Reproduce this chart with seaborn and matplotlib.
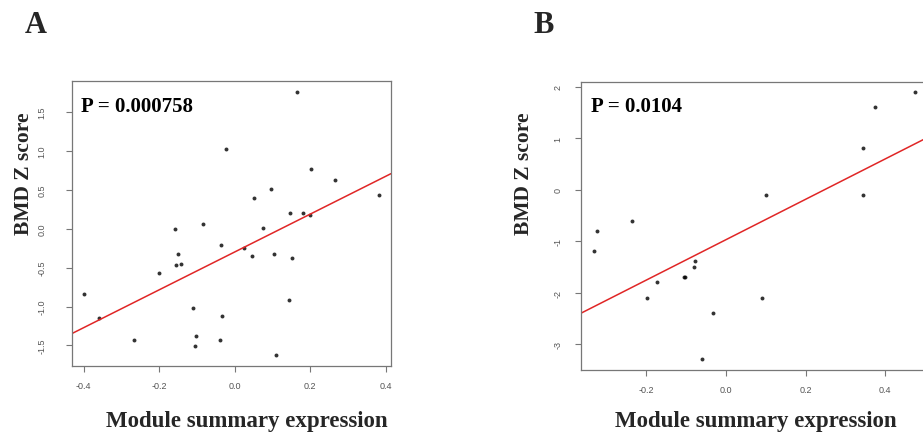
import numpy as np
import pandas as pd
import matplotlib
matplotlib.use("Agg")
import matplotlib.pyplot as plt
import seaborn as sns

# Panel A: module summary expression vs BMD Z score (32 samples)
expr_a = [-0.400, -0.358, -0.266, -0.200, -0.157, -0.150, -0.156, -0.142,
          -0.083, -0.111, -0.103, -0.105, -0.024, -0.036, -0.033, -0.039,
          0.025, 0.046, 0.052, 0.076, 0.095, 0.105, 0.108, 0.145,
          0.143, 0.151, 0.165, 0.181, 0.201, 0.200, 0.265, 0.382]
bmd_a = [-0.844, -1.149, -1.436, -0.574, -0.004, -0.321, -0.467, -0.450,
         0.064, -1.020, -1.380, -1.513, 1.029, -0.206, -1.127, -1.432,
         -0.249, -0.347, 0.399, 0.009, 0.506, -0.321, -1.629, 0.201,
         -0.917, -0.369, 1.766, 0.201, 0.776, 0.176, 0.622, 0.429]
pval_a = "P = 0.000758"
xticks_a = [-0.4, -0.2, 0.0, 0.2, 0.4]
yticks_a = [-1.5, -1.0, -0.5, 0.0, 0.5, 1.0, 1.5]

# Panel B: module summary expression vs BMD Z score (17 samples)
expr_b = [-0.333, -0.324, -0.237, -0.199, -0.174, -0.107, -0.103, -0.079,
          -0.080, -0.061, -0.033, 0.091, 0.101, 0.345, 0.344, 0.374, 0.475]
bmd_b = [-1.190, -0.796, -0.602, -2.096, -1.792, -1.688, -1.688, -1.391,
         -1.501, -3.292, -2.393, -2.096, -0.103, 0.809, -0.103, 1.604, 1.895]
pval_b = "P = 0.0104"
xticks_b = [-0.2, 0.0, 0.2, 0.4]
yticks_b = [-3, -2, -1, 0, 1, 2]

panel_letters = ["A", "B"]
xlabel = "Module summary expression"
ylabel = "BMD Z score"

sns.set_theme(style="white")
serif = ["Liberation Serif", "DejaVu Serif"]
sans = ["Liberation Sans", "DejaVu Sans"]
plt.rcParams["font.family"] = sans

W, H = 923, 435
fig = plt.figure(figsize=(W / 100, H / 100), dpi=100)
fig.patch.set_facecolor("white")


def px_axes(left, top, right, bottom):
    return fig.add_axes([left / W, 1 - bottom / H, (right - left) / W, (bottom - top) / H])


def r_limits(v):
    lo, hi = min(v), max(v)
    pad = (hi - lo) * 0.04
    return lo - pad, hi + pad


def draw_panel(ax, x, y, xticks, yticks, ytickfmt, pval, pval_xy, xpad, ypad):
    df = pd.DataFrame({"expr": x, "bmd": y})
    ax.set_xlim(r_limits(x))
    ax.set_ylim(r_limits(y))
    sns.regplot(data=df, x="expr", y="bmd", ax=ax, ci=None, truncate=False,
                scatter_kws=dict(s=8, color="black", linewidths=0),
                line_kws=dict(color="#e02626", lw=1.1))
    ax.set_xlim(r_limits(x))
    ax.set_ylim(r_limits(y))
    ax.set_xlabel("")
    ax.set_ylabel("")
    ax.set_xticks(xticks)
    ax.set_xticklabels([f"{t:.1f}" for t in xticks])
    ax.set_yticks(yticks)
    ax.set_yticklabels([ytickfmt(t) for t in yticks], rotation=90, va="center")
    ax.tick_params(axis="both", which="major", direction="out", length=4,
                   width=0.8, color="#777777", labelsize=6.5, labelcolor="#555555",
                   bottom=True, left=True)
    ax.tick_params(axis="x", pad=xpad)
    ax.tick_params(axis="y", pad=ypad)
    for s in ax.spines.values():
        s.set_color("#777777")
        s.set_linewidth(0.9)
    ax.text(pval_xy[0], pval_xy[1], pval, transform=fig.transFigure,
            fontsize=15, fontweight="bold", family=serif, color="black",
            ha="left", va="baseline")


ax_a = px_axes(71.7, 82, 391, 367)
draw_panel(ax_a, expr_a, bmd_a, xticks_a, yticks_a, lambda t: f"{t:.1f}",
           pval_a, (81 / W, 1 - 111.5 / H), xpad=7, ypad=14)

ax_b = px_axes(580.7, 82.7, 928, 371)
draw_panel(ax_b, expr_b, bmd_b, xticks_b, yticks_b, lambda t: f"{t:d}",
           pval_b, (591 / W, 1 - 111.5 / H), xpad=6.5, ypad=9)

# Axis titles and panel letters
for cx, txt in [(247, xlabel), (756, xlabel)]:
    fig.text(cx / W, 1 - 427 / H, txt, fontsize=16.5, fontweight="bold",
             family=serif, ha="center", va="baseline")
for cx, txt in [(24, ylabel), (524, ylabel)]:
    fig.text(cx / W, 1 - 174 / H, txt, fontsize=15.5, fontweight="bold",
             family=serif, rotation=90, ha="center", va="center")
for lx, txt in [(25, panel_letters[0]), (533, panel_letters[1])]:
    fig.text(lx / W, 1 - 33 / H, txt, fontsize=22, fontweight="bold",
             family=serif, ha="left", va="baseline")

fig.savefig("out.png", dpi=100, facecolor="white")
